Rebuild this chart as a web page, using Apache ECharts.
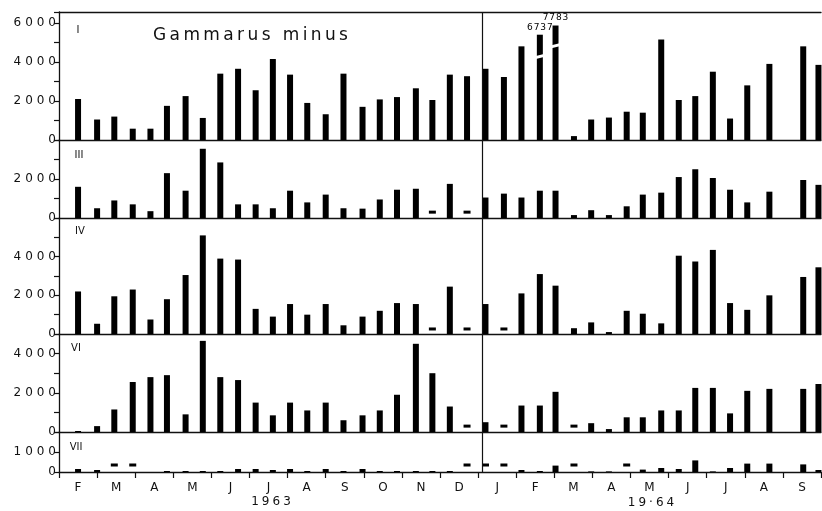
<!DOCTYPE html>
<html>
<head>
<meta charset="utf-8">
<script src="https://cdn.jsdelivr.net/npm/echarts@6/dist/echarts.min.js"></script>
<style>
html, body { margin: 0; background: #fff; }
#chart { width: 822px; height: 511px; }
</style>
</head>
<body>
<div id="chart"></div>
<script>
// fortnightly samples, Feb 1963 - Sep 1964
var sampleDates = [
    '1963-02-15', '1963-03-01', '1963-03-15', '1963-03-30', '1963-04-13', '1963-04-26',
    '1963-05-11', '1963-05-25', '1963-06-08', '1963-06-22', '1963-07-06', '1963-07-20',
    '1963-08-03', '1963-08-17', '1963-09-01', '1963-09-15', '1963-09-30', '1963-10-14',
    '1963-10-28', '1963-11-12', '1963-11-25', '1963-12-09', '1963-12-23',
    '1964-01-07', '1964-01-22', '1964-02-05', '1964-02-19', '1964-03-02', '1964-03-17',
    '1964-03-31', '1964-04-14', '1964-04-28', '1964-05-11', '1964-05-26', '1964-06-09',
    '1964-06-22', '1964-07-06', '1964-07-20', '1964-08-03', '1964-08-21', '1964-09-17',
    '1964-09-29'
];
var months = ['F', 'M', 'A', 'M', 'J', 'J', 'A', 'S', 'O', 'N', 'D',
              'J', 'F', 'M', 'A', 'M', 'J', 'J', 'A', 'S'];

// null = no sample (drawn as a dash)
var stationI = [2100, 1050, 1200, 580, 580, 1750, 2250, 1130, 3400, 3650, 2550, 4150, 3350, 1900, 1320, 3400, 1700, 2080, 2200, 2650, 2050, 3350, 3270,
                3650, 3230, 4800, 6737, 7783, 200, 1050, 1150, 1450, 1400, 5150, 2050, 2250, 3500, 1100, 2800, 3900, 4800, 3850];
var stationIII = [1600, 500, 900, 700, 350, 2300, 1400, 3550, 2850, 700, 700, 500, 1400, 800, 1200, 500, 480, 950, 1450, 1500, null, 1750, null,
                  1050, 1250, 1050, 1400, 1400, 150, 400, 150, 600, 1200, 1300, 2100, 2500, 2050, 1450, 800, 1350, 1950, 1700];
var stationIV = [2200, 530, 1950, 2300, 750, 1800, 3050, 5100, 3900, 3850, 1300, 900, 1550, 1000, 1550, 450, 900, 1200, 1600, 1550, null, 2450, null,
                 1550, null, 2100, 3100, 2500, 300, 600, 100, 1200, 1050, 550, 4050, 3750, 4350, 1600, 1250, 2000, 2950, 3450];
var stationVI = [50, 300, 1150, 2550, 2800, 2900, 900, 4650, 2800, 2650, 1500, 850, 1500, 1100, 1500, 600, 850, 1100, 1900, 4500, 3000, 1300, null,
                 500, null, 1350, 1350, 2050, null, 450, 150, 750, 750, 1100, 1100, 2250, 2250, 950, 2100, 2200, 2200, 2450];
var stationVII = [150, 100, null, null, 0, 50, 50, 50, 50, 150, 150, 100, 150, 50, 150, 50, 150, 50, 50, 50, 50, 50, null,
                  null, null, 100, 50, 320, null, 30, 30, null, 120, 200, 150, 580, 30, 200, 420, 420, 380, 100];

// the two tallest bars of panel I are drawn with a break
var breakFrom = 4300, breakRatio = 0.45;
var breakGaps = [4250, 4800];
var dividerAt = 11.1; // line between 1963 and 1964

function monthPos(s) {
    var p = s.split('-'), y = +p[0], m = +p[1], d = +p[2];
    var days = new Date(y, m, 0).getDate();
    return (y - 1963) * 12 + (m - 2) + (d - 1) / days;
}
function spaced(v, sp) {
    return String(v).split('').join(sp);
}

var xs = sampleDates.map(monthPos);
var ink = '#111';
var font = '"DejaVu Sans", sans-serif';

var panels = [
    {name: 'I', values: stationI, top: 12, height: 128, max: 6560, step: 2000, dash: 0, nx: 78, ny: 30},
    {name: 'III', values: stationIII, top: 140, height: 78, max: 4000, step: 2000, dash: 300, nx: 79, ny: 155},
    {name: 'IV', values: stationIV, top: 218, height: 116, max: 6000, step: 2000, dash: 260, nx: 80, ny: 231},
    {name: 'VI', values: stationVI, top: 334, height: 98, max: 5000, step: 2000, dash: 300, nx: 76, ny: 348},
    {name: 'VII', values: stationVII, top: 432, height: 40, max: 2000, step: 1000, dash: 350, nx: 76, ny: 447}
];

var option = {
    animation: false,
    backgroundColor: '#fff',
    grid: [], xAxis: [], yAxis: [], series: [], graphic: []
};

panels.forEach(function (p, i) {
    option.grid.push({left: 59, right: 1, top: p.top, height: p.height});
    option.xAxis.push({
        type: 'value', gridIndex: i, min: 0, max: 20, position: 'bottom',
        axisLine: {show: true, onZero: false, lineStyle: {color: ink, width: 1.3}},
        axisTick: {show: false}, axisLabel: {show: false}, splitLine: {show: false}
    });
    option.yAxis.push({
        type: 'value', gridIndex: i, min: 0, max: p.max, interval: 1000,
        axisLine: {show: true, lineStyle: {color: ink, width: 1.3}},
        axisTick: {show: true, length: 5, lineStyle: {color: ink, width: 1.2}},
        splitLine: {show: false},
        axisLabel: {
            fontSize: 12, color: ink, fontFamily: font, margin: 3,
            formatter: function (v) {
                return (v % p.step === 0 && v < p.max) ? spaced(v, '\u2004') : '';
            }
        }
    });

    var bars = [], dashes = [], gaps = [];
    p.values.forEach(function (v, k) {
        if (v === null) { dashes.push([xs[k], p.dash]); return; }
        if (v > p.max) {
            bars.push({
                value: [xs[k], breakFrom + (v - breakFrom) * breakRatio],
                label: {show: true, formatter: spaced(v, '\u200a')}
            });
            gaps.push([xs[k], breakGaps[gaps.length]]);
        } else {
            bars.push([xs[k], v]);
        }
    });

    option.series.push({
        type: 'bar', xAxisIndex: i, yAxisIndex: i, data: bars, barWidth: 6,
        itemStyle: {color: '#000'},
        label: {show: false, position: 'top', distance: 3, fontSize: 9, color: '#000', fontFamily: font},
        markLine: {
            silent: true, symbol: 'none', label: {show: false},
            lineStyle: {color: ink, width: 1.2, type: 'solid'},
            data: [{xAxis: dividerAt}]
        }
    });
    if (dashes.length) {
        option.series.push({
            type: 'scatter', xAxisIndex: i, yAxisIndex: i, data: dashes,
            symbol: 'rect', symbolSize: [7, 3], itemStyle: {color: '#000', opacity: 1}, z: 3
        });
    }
    if (gaps.length) {
        // white slanted cut through the broken bars
        option.series.push({
            type: 'custom', xAxisIndex: i, yAxisIndex: i, data: gaps, silent: true, z: 4,
            renderItem: function (params, api) {
                var c = api.coord([api.value(0), api.value(1)]);
                return {
                    type: 'polygon',
                    shape: {points: [[c[0] - 4, c[1] + 2], [c[0] + 4, c[1]], [c[0] + 4, c[1] - 3], [c[0] - 4, c[1] - 1]]},
                    style: {fill: '#fff'}
                };
            }
        });
    }

    option.graphic.push({
        type: 'text', x: p.nx, y: p.ny,
        style: {text: p.name, align: 'center', verticalAlign: 'middle', font: '10px ' + font, fill: ink}
    });
});

// top frame line of panel I
option.xAxis.push({
    type: 'value', gridIndex: 0, min: 0, max: 20, position: 'top',
    axisLine: {show: true, onZero: false, lineStyle: {color: ink, width: 1.3}},
    axisTick: {show: false}, axisLabel: {show: false}, splitLine: {show: false}
});
// month axis under the last panel
option.xAxis.push({
    type: 'category', gridIndex: 4, data: months, position: 'bottom', boundaryGap: true,
    axisLine: {show: false},
    axisTick: {show: true, length: 6, lineStyle: {color: ink, width: 1.2}},
    axisLabel: {fontSize: 12, color: ink, fontFamily: font, margin: 10}
});

option.graphic.push(
    {type: 'text', x: 153, y: 36,
     style: {text: spaced('Gammarus minus', '\u2009'), align: 'left', verticalAlign: 'middle', font: '17px ' + font, fill: ink}},
    {type: 'text', x: 271, y: 502,
     style: {text: spaced('1963', '\u2005'), align: 'center', verticalAlign: 'middle', font: '12px ' + font, fill: ink}},
    {type: 'text', x: 651, y: 503,
     style: {text: spaced('19·64', '\u2005'), align: 'center', verticalAlign: 'middle', font: '12px ' + font, fill: ink}}
);

var myChart = echarts.init(document.getElementById('chart'));
myChart.setOption(option);
</script>
</body>
</html>
